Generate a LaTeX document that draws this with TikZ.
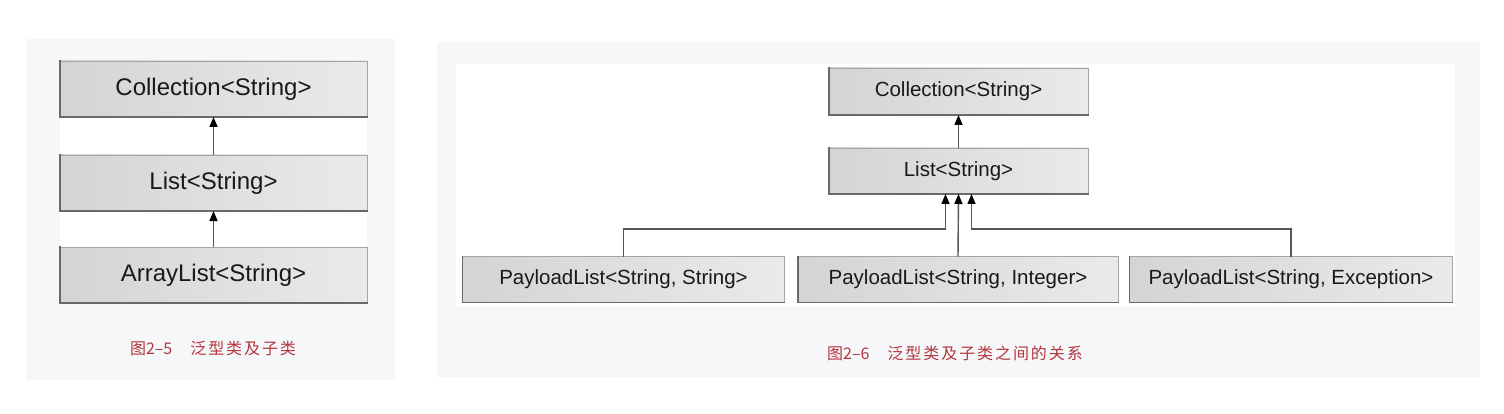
\documentclass[tikz,border=0pt]{standalone}
\usepackage{fontspec}
\setmainfont{Liberation Sans}
\newfontfamily\cjk{Noto Sans CJK SC}
\usetikzlibrary{arrows.meta}
\definecolor{panelbg}{RGB}{246,247,249}
\definecolor{boxl}{RGB}{212,212,212}
\definecolor{boxr}{RGB}{234,234,234}
\definecolor{boxedge}{RGB}{165,165,165}
\definecolor{boxdark}{RGB}{105,105,105}
\definecolor{linegray}{RGB}{85,85,85}
\definecolor{captred}{RGB}{180,52,62}
\definecolor{txt}{RGB}{25,25,25}
\tikzset{
  cbox/.style={shape=rectangle, inner sep=0pt, outer sep=0pt,
    left color=boxl, right color=boxr, draw=boxedge, line width=0.8pt,
    text=txt,
    append after command={
      (\tikzlastnode.north west) edge[shadowline] (\tikzlastnode.south west)
      (\tikzlastnode.south west) edge[shadowline] (\tikzlastnode.south east)}},
  shadowline/.style={draw=boxdark, line width=1.4pt, line cap=rect},
  bigbox/.style={cbox, minimum width=307pt, minimum height=56pt,
    font=\fontsize{24}{28}\selectfont},
  smallbox/.style={cbox, minimum height=46pt,
    font=\fontsize{20.5}{24}\selectfont},
  arr/.style={draw=linegray, line width=1.4pt,
    -{Triangle[length=10pt,width=8pt,fill=black,color=black]}},
  caption/.style={text=captred, font=\cjk\fontsize{16}{19}\selectfont, inner sep=0pt},
}
\begin{document}
\begin{tikzpicture}[x=1pt,y=-1pt]
\useasboundingbox (0,0) rectangle (1504,414);
\fill[white] (0,0) rectangle (1504,414);
% panels
\fill[panelbg] (26,39) rectangle (395,380);
\fill[white] (60,61) rectangle (367,303);
\fill[panelbg] (437,42) rectangle (1480,377);
\fill[white] (456,64) rectangle (1455,307);
% left figure
\node[bigbox] (lcol) at (213.5,89) {Collection<String>};
\node[bigbox] (llist) at (213.5,183) {List<String>};
\node[bigbox] (larr) at (213.5,275) {ArrayList<String>};
\draw[arr] (llist.north) -- (lcol.south);
\draw[arr] (larr.north) -- (llist.south);
\node[caption] (lcap) at (213,348) {图2–5\hspace{18pt}{\addfontfeature{LetterSpace=12}泛型类及子类}};
% right figure
\node[smallbox, minimum width=259pt, minimum height=47pt] (rcol) at (958.5,91.5) {Collection<String>};
\node[smallbox, minimum width=259pt] (rlist) at (958.5,171) {List<String>};
\node[smallbox, minimum width=322pt] (ps) at (623.5,279.5) {PayloadList<String, String>};
\node[smallbox, minimum width=320pt] (pi) at (958,279.5) {PayloadList<String, Integer>};
\node[smallbox, minimum width=323pt] (pe) at (1291,279.5) {PayloadList<String, Exception>};
\coordinate (bus) at (0,229);
\draw[arr] (rlist.north) -- (rcol.south);
\draw[arr] (ps.north) -- (ps.north |- bus) -| ([xshift=-13pt]rlist.south);
\draw[arr] (pi.north) -- (rlist.south);
\draw[arr] (pe.north) -- (pe.north |- bus) -| ([xshift=13pt]rlist.south);
\node[caption] (rcap) at (955,353) {图2–6\hspace{18pt}{\addfontfeature{LetterSpace=12}泛型类及子类之间的关系}};
\end{tikzpicture}
\end{document}
